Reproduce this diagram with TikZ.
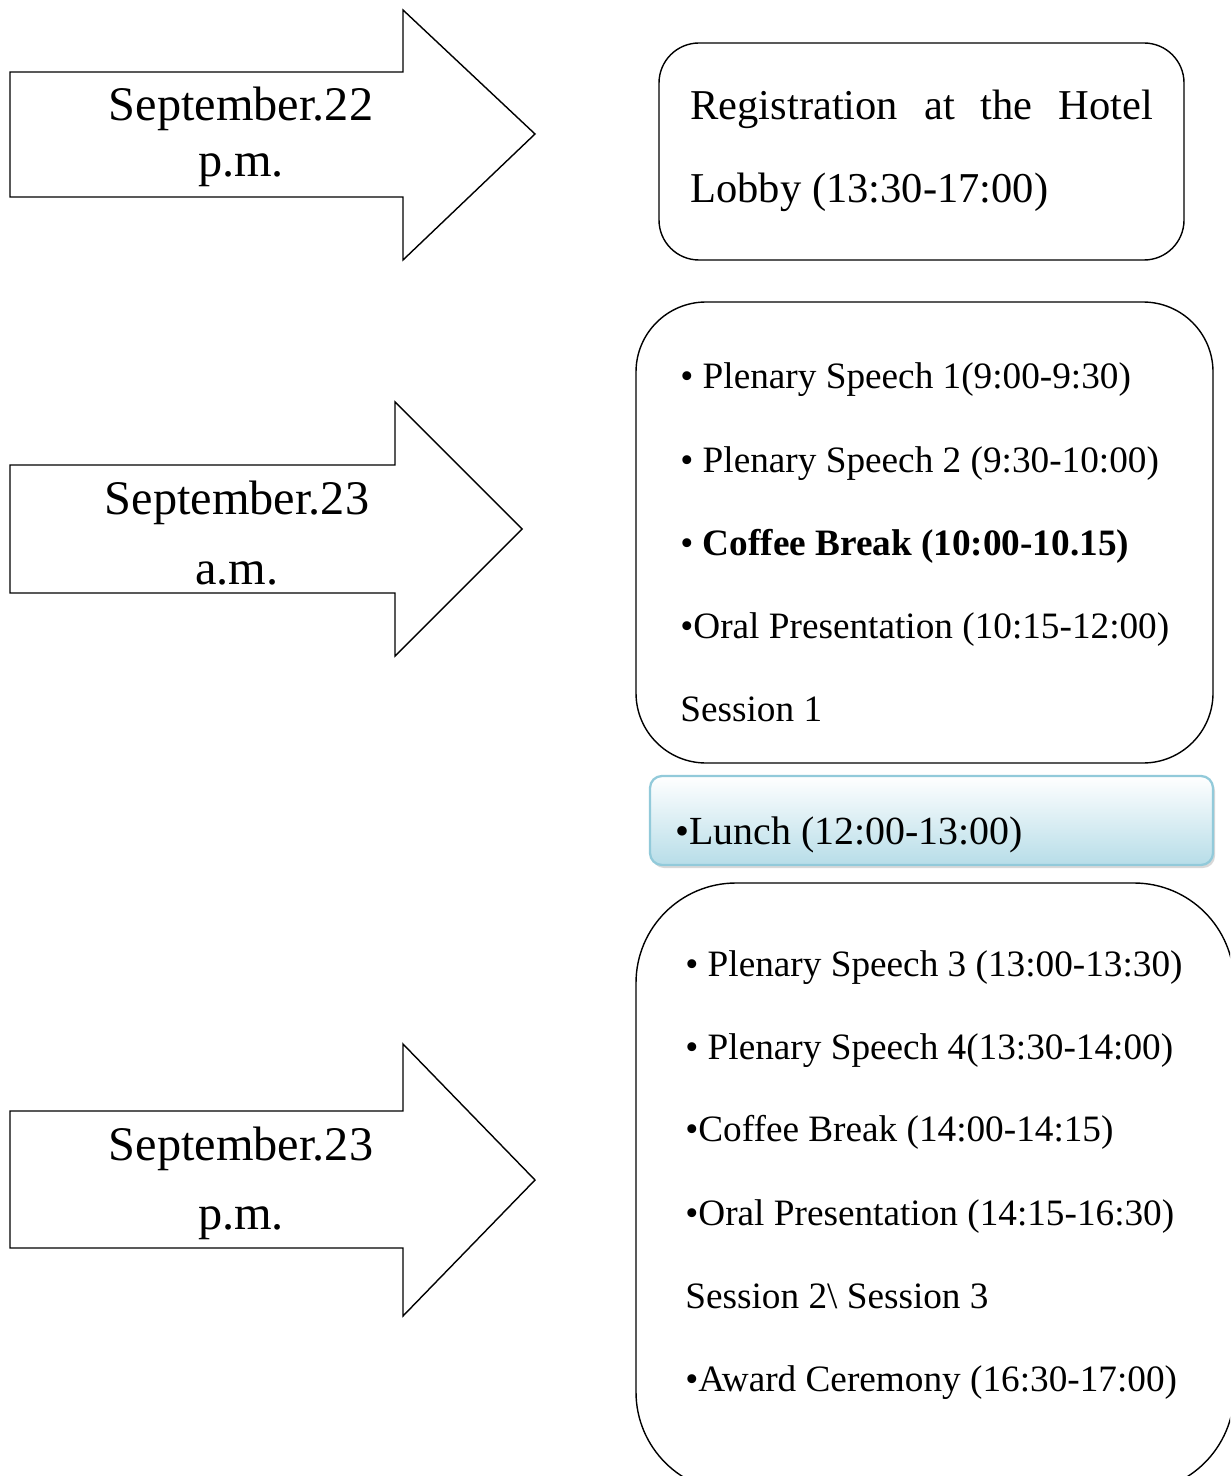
\documentclass[tikz,border=0pt]{standalone}
\usepackage{fontspec}
\setmainfont{Liberation Serif}
\usetikzlibrary{shadows}

\definecolor{lunchblue}{RGB}{183,221,232}
\definecolor{lunchline}{RGB}{146,202,218}

\begin{document}
\begin{tikzpicture}[x=0.02cm, y=-0.02cm,
    daytext/.style={anchor=base, inner sep=0pt, font=\fontsize{27.5}{32}\selectfont},
    regtext/.style={anchor=base west, inner sep=0pt, font=\fontsize{24.2}{28}\selectfont},
    itemtext/.style={anchor=base west, inner sep=0pt, font=\fontsize{21.2}{25}\selectfont}]
  \clip (0,0) rectangle (1230,1476); % page size

  % block arrows
  \draw [black, line width=0.8pt] (10,72) -- (403,72) -- (403,10) -- (535,134) -- (403,260) -- (403,197) -- (10,197) -- cycle; % Draws an arrow
  \draw [black, line width=0.8pt] (10,465) -- (395,465) -- (395,402) -- (522,529) -- (395,656) -- (395,593) -- (10,593) -- cycle; % Draws an arrow
  \draw [black, line width=0.8pt] (10,1111) -- (403,1111) -- (403,1044) -- (535,1180) -- (403,1316) -- (403,1248) -- (10,1248) -- cycle; % Draws an arrow

  \node [daytext] (day1) at (241,121) {September.22};
  \node [daytext] (time1) at (241,177) {p.m.};
  \node [daytext] (day2) at (237,514) {September.23};
  \node [daytext] (time2) at (237,584) {a.m.};
  \node [daytext] (day3) at (241,1160) {September.23};
  \node [daytext] (time3) at (241,1229) {p.m.};

  % boxes
  \draw [black, line width=0.8pt, rounded corners=0.8cm] (659,43) rectangle (1184,260); % Draws a rectangle
  \draw [black, line width=0.8pt, rounded corners=1.4cm] (636,302) rectangle (1213,763); % Draws a rectangle
  \draw [lunchline, line width=1.3pt, rounded corners=0.24cm, top color=white, bottom color=lunchblue,
         drop shadow={shadow xshift=0.04cm, shadow yshift=-0.06cm, fill=gray!60}] (650,776) rectangle (1213,865); % Draws a rectangle
  \draw [black, line width=0.8pt, rounded corners=2cm] (636,883) rectangle (1234,1492); % Draws a rectangle

  \node [regtext] (reg1) at (690,120) {\makebox[9.26cm][s]{Registration at the Hotel}};
  \node [regtext] (reg2) at (690,203) {Lobby (13:30-17:00)};

  \node [itemtext] (am1) at (680,389) {• Plenary Speech 1(9:00-9:30)};
  \node [itemtext] (am2) at (680,472) {• Plenary Speech 2 (9:30-10:00)};
  \node [itemtext] (am3) at (680,555) {• \textbf{Coffee Break (10:00-10.15)}};
  \node [itemtext] (am4) at (680,638) {•Oral Presentation (10:15-12:00)};
  \node [itemtext] (am5) at (680,721) {Session 1};

  \node [itemtext, font=\fontsize{22.7}{27}\selectfont] (lunch) at (675,844) {•Lunch (12:00-13:00)};

  \node [itemtext] (pm1) at (685,976) {• Plenary Speech 3 (13:00-13:30)};
  \node [itemtext] (pm2) at (685,1059) {• Plenary Speech 4(13:30-14:00)};
  \node [itemtext] (pm3) at (685,1141) {•Coffee Break (14:00-14:15)};
  \node [itemtext] (pm4) at (685,1225) {•Oral Presentation (14:15-16:30)};
  \node [itemtext] (pm5) at (685,1308) {Session 2\textbackslash\ Session 3};
  \node [itemtext] (pm6) at (685,1391) {•Award Ceremony (16:30-17:00)};
\end{tikzpicture}
\end{document}
